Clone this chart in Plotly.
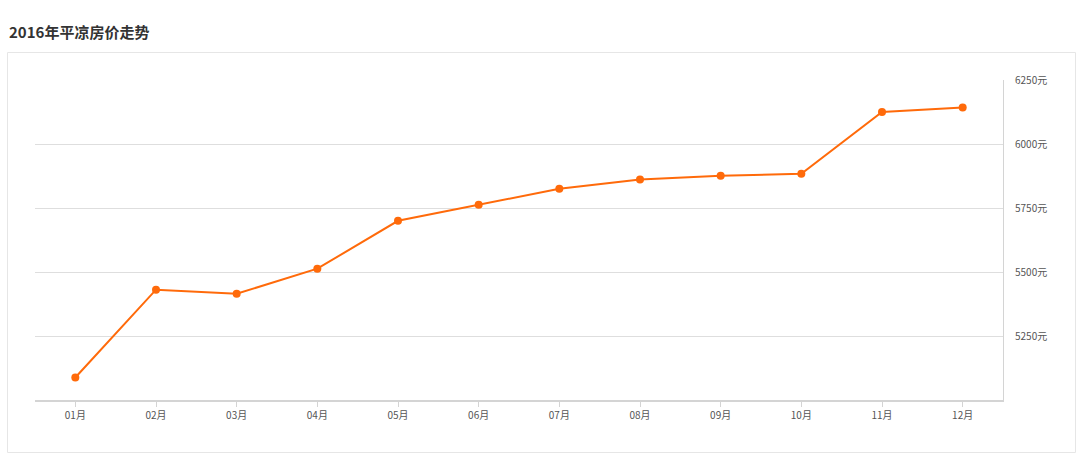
import plotly.graph_objects as go

months = ["01月", "02月", "03月", "04月", "05月", "06月", "07月", "08月", "09月", "10月", "11月", "12月"]
prices = [5088, 5431, 5415, 5513, 5700, 5763, 5825, 5861, 5876, 5884, 6125, 6143]
y_ticks = [5250, 5500, 5750, 6000, 6250]
y_tick_labels = [f"{v}元" for v in y_ticks]
title_text = "2016年平凉房价走势"

FONT = "Noto Sans CJK SC, Microsoft YaHei, sans-serif"
ORANGE = "#ff6a0a"

fig = go.Figure()
fig.add_trace(go.Scatter(
    x=months, y=prices, mode="lines+markers",
    line=dict(color=ORANGE, width=2),
    marker=dict(color=ORANGE, size=8),
    hoverinfo="x+y",
))

W, H = 1080, 463
L, R, T, B = 35, 77, 80, 63
pw, ph = W - L - R, H - T - B

def px_x(x):
    return (x - L) / pw

def px_y(y):
    return (H - B - y) / ph

fig.update_layout(
    width=W, height=H,
    margin=dict(l=L, r=R, t=T, b=B, autoexpand=False),
    paper_bgcolor="white", plot_bgcolor="white",
    showlegend=False,
    font=dict(family=FONT, color="#555", size=10),
    annotations=[dict(
        text=f"<b>{title_text}</b>", xref="paper", yref="paper",
        x=px_x(6.5), y=px_y(31), xanchor="left", yanchor="middle",
        showarrow=False, font=dict(size=15, color="#333", family=FONT),
    )],
    shapes=[dict(
        type="rect", xref="paper", yref="paper",
        x0=px_x(7.5), x1=px_x(1075.5), y0=px_y(452.5), y1=px_y(52.5),
        line=dict(color="#e6e6e6", width=1), fillcolor="rgba(0,0,0,0)", layer="below",
    )],
    xaxis=dict(
        type="category", range=[-0.5, 11.5],
        showgrid=False, showline=True, linecolor="#d4d4d4", linewidth=2,
        ticks="outside", ticklen=5, tickcolor="#d4d4d4", tickwidth=1,
        tickfont=dict(size=10, color="#555", family=FONT),
        zeroline=False, fixedrange=True,
    ),
    yaxis=dict(
        side="right", range=[5000, 6250],
        tickvals=y_ticks, ticktext=y_tick_labels,
        showgrid=True, gridcolor="#dedede", gridwidth=1,
        showline=True, linecolor="#d4d4d4", linewidth=1,
        ticks="", ticklabelstandoff=9,
        tickfont=dict(size=10, color="#555", family=FONT),
        zeroline=False, fixedrange=True,
    ),
)

fig.write_html(
    "out.html",
    config={"displayModeBar": False},
    post_script="document.body.style.margin='0';document.body.style.overflow='hidden';",
)
